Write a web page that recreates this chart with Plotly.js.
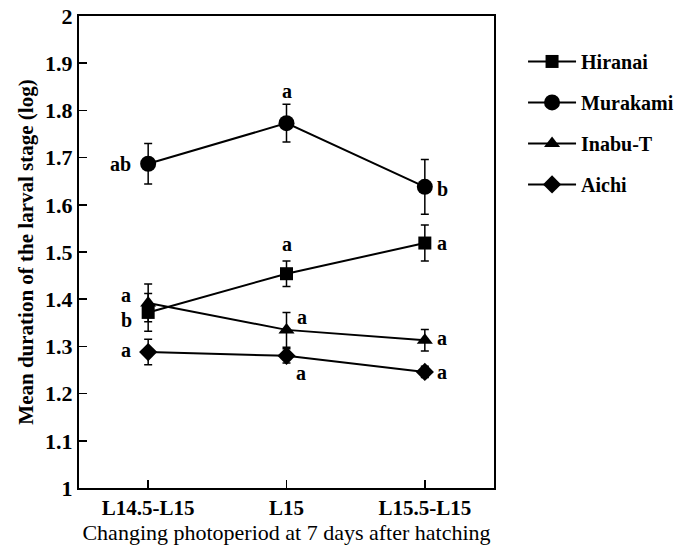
<!DOCTYPE html>
<html>
<head>
<meta charset="utf-8">
<script src="https://cdn.plot.ly/plotly-3.0.1.min.js"></script>
<style>html,body{margin:0;padding:0;background:#fff;}#chart{width:680px;height:551px;}</style>
</head>
<body>
<div id="chart"></div>
<script>
const categories = ["L14.5-L15", "L15", "L15.5-L15"];
const seriesNames = ["Hiranai", "Murakami", "Inabu-T", "Aichi"];
const hiranai = [1.372, 1.454, 1.519];
const hiranaiErr = [0.04, 0.027, 0.038];
const murakami = [1.687, 1.773, 1.638];
const murakamiErr = [0.043, 0.04, 0.058];
const inabu = [1.392, 1.335, 1.313];
const inabuErr = [0.04, 0.037, 0.023];
const aichi = [1.288, 1.28, 1.246];
const aichiErr = [0.027, 0.015, 0.012];
const hiranaiLetters = ["b", "a", "a"];
const murakamiLetters = ["ab", "a", "b"];
const inabuLetters = ["a", "a", "a"];
const aichiLetters = ["a", "a", "a"];
const yTicks = [1, 1.1, 1.2, 1.3, 1.4, 1.5, 1.6, 1.7, 1.8, 1.9, 2];

const serif = "Liberation Serif, Times New Roman, serif";
const values = [hiranai, murakami, inabu, aichi];
const errs = [hiranaiErr, murakamiErr, inabuErr, aichiErr];
const letters = [hiranaiLetters, murakamiLetters, inabuLetters, aichiLetters];
const symbols = ["square", "circle", "triangle-up", "diamond"];
const sizes = [13, 16, 14, 14];

const traces = values.map((v, i) => ({
  x: categories, y: v, type: "scatter", mode: "lines+markers",
  name: seriesNames[i], legendgroup: "g" + i,
  line: {color: "#000", width: 2},
  marker: {symbol: symbols[i], size: sizes[i], color: "#000"},
  error_y: {type: "data", array: errs[i], visible: true, color: "#000", thickness: 1.5, width: 4}
}));

// label placement per series/point: [xshift, yshift] (style only)
const place = [
  [[-22, -8], [0, 30], [17, 0]],
  [[-28, 0], [0, 32], [18, -2]],
  [[-22, 8], [15, 13], [17, 2]],
  [[-22, 2], [14, -17], [17, 0]]
];
const annotations = [];
letters.forEach((arr, i) => arr.forEach((t, j) => {
  annotations.push({x: categories[j], y: values[i][j], xref: "x", yref: "y", text: t,
    showarrow: false, xshift: place[i][j][0], yshift: place[i][j][1],
    font: {family: serif, size: 20, color: "#000", weight: "bold"}});
}));

const layout = {
  width: 680, height: 551,
  margin: {l: 79, r: 186, t: 16, b: 63, autoexpand: false},
  paper_bgcolor: "#fff", plot_bgcolor: "#fff",
  showlegend: true,
  legend: {x: 1.07, y: 0.945, xanchor: "left", yanchor: "top", traceorder: "grouped", tracegroupgap: 12,
    itemwidth: 48,
    font: {family: serif, size: 20, color: "#000", weight: "bold"}, bgcolor: "rgba(0,0,0,0)"},
  xaxis: {type: "category", range: [-0.5, 2.5], showline: true, mirror: true, linecolor: "#000", linewidth: 2,
    ticks: "inside", ticklen: 8, tickwidth: 1.5, tickcolor: "#000", showgrid: false, zeroline: false,
    tickfont: {family: serif, size: 21, color: "#000", weight: "bold"},
    title: {text: "Changing photoperiod at 7 days after hatching", standoff: 2,
      font: {family: serif, size: 22, color: "#000"}}},
  yaxis: {range: [1, 2], tickvals: yTicks, ticktext: yTicks.map(String), showline: true, mirror: true,
    linecolor: "#000", linewidth: 2, ticks: "inside", ticklen: 8, tickwidth: 1.5, tickcolor: "#000",
    showgrid: false, zeroline: false,
    tickfont: {family: serif, size: 22, color: "#000", weight: "bold"},
    title: {text: "Mean duration of the larval stage (log)", standoff: 6,
      font: {family: serif, size: 21, color: "#000", weight: "bold"}}},
  annotations: annotations
};
Plotly.newPlot("chart", traces, layout, {displayModeBar: false, staticPlot: true});
</script>
</body>
</html>
